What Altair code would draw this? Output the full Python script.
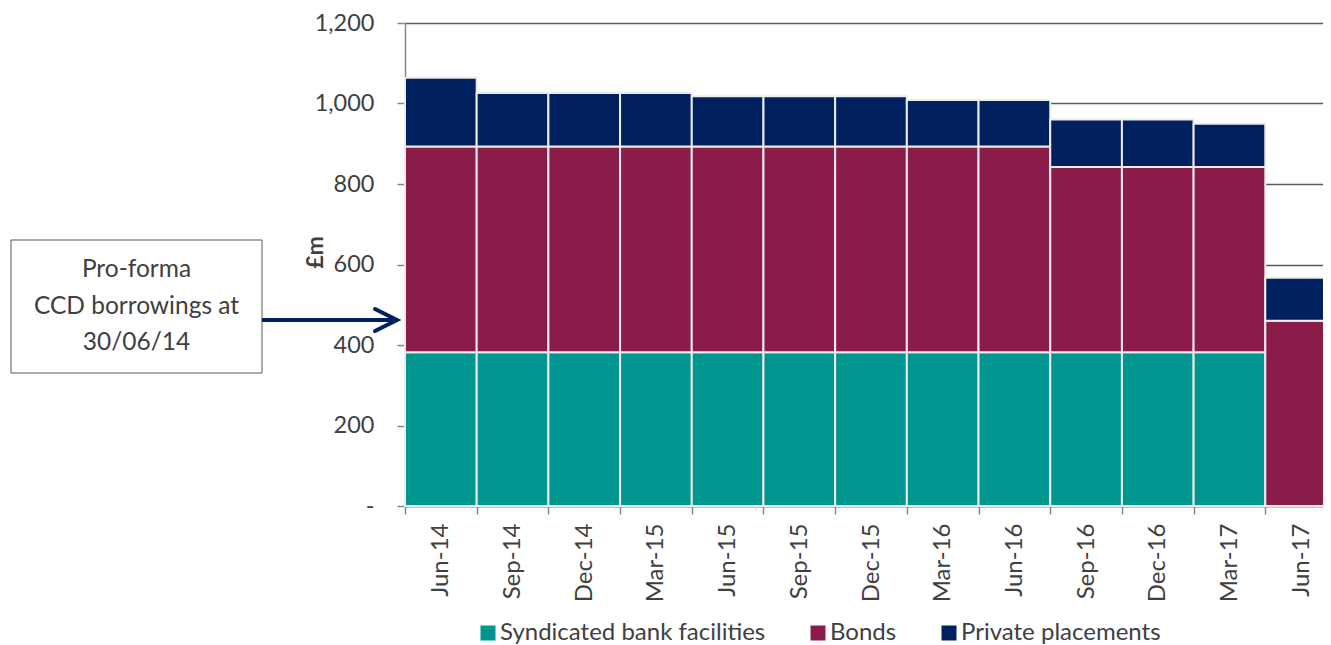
import altair as alt
import pandas as pd

periods = ["Jun-14", "Sep-14", "Dec-14", "Mar-15", "Jun-15", "Sep-15", "Dec-15",
           "Mar-16", "Jun-16", "Sep-16", "Dec-16", "Mar-17", "Jun-17"]
syndicated = [382, 382, 382, 382, 382, 382, 382, 382, 382, 382, 382, 382, 0]
bonds = [511, 511, 511, 511, 511, 511, 511, 511, 511, 460, 460, 460, 460]
private = [171, 133, 133, 133, 125, 125, 125, 116, 116, 118, 118, 108, 107]

series_names = ["Syndicated bank facilities", "Bonds", "Private placements"]
series_colors = ["#00968F", "#8B1C4A", "#002060"]
y_ticks = [0, 200, 400, 600, 800, 1000, 1200]

annotation_text = "Pro-forma\nCCD borrowings at\n30/06/14"
arrow_value = 462

FONT = "Lato"
TXT = "#404040"
AXIS_C = "#868696"

rows = []
for i, p in enumerate(periods):
    for k, (name, vals) in enumerate(zip(series_names, [syndicated, bonds, private])):
        rows.append({"period": p, "series": name, "value": vals[i], "order": k})
df = pd.DataFrame(rows)

bars = alt.Chart(df).mark_bar(stroke="#ececec", strokeWidth=2).encode(
    x=alt.X("period:N", sort=periods, title=None,
            scale=alt.Scale(paddingInner=0, paddingOuter=0, range=[0, 932]),
            axis=alt.Axis(labelAngle=270, labelAlign="right", labelBaseline="middle",
                          labelPadding=9, tickSize=8, tickBand="extent",
                          domainColor=AXIS_C, tickColor=AXIS_C, domainWidth=1.5,
                          tickWidth=1.5, labelFont=FONT, labelFontSize=24,
                          labelColor=TXT)),
    y=alt.Y("value:Q", stack="zero",
            scale=alt.Scale(domain=[0, 1200], nice=False),
            axis=alt.Axis(values=y_ticks, title="£m", titleFont=FONT, titleFontSize=23,
                          titleFontWeight="bold", titleColor=TXT, titleAngle=270,
                          titleX=-90, titleY=229, titleAlign="center",
                          titleBaseline="middle",
                          labelExpr="datum.value == 0 ? '-' : format(datum.value, ',')",
                          labelFont=FONT, labelFontSize=23.5, labelColor=TXT,
                          labelPadding=23, tickSize=8, tickColor=AXIS_C,
                          domainColor=AXIS_C, domainWidth=1.5, tickWidth=1.5,
                          grid=True, gridColor="#5a5a5a", gridWidth=1.5)),
    color=alt.Color("series:N", sort=series_names,
                    scale=alt.Scale(domain=series_names, range=series_colors),
                    legend=alt.Legend(title=None, orient="none", direction="horizontal",
                                      columns=3, legendX=71, legendY=598,
                                      symbolType="square", symbolSize=225,
                                      symbolStrokeWidth=0, labelFont=FONT,
                                      labelFontSize=24, labelColor=TXT, labelLimit=500,
                                      labelOffset=0, columnPadding=40, padding=0)),
    order=alt.Order("order:Q"),
)

one = pd.DataFrame({"a": [0]})

box = alt.Chart(one).mark_rect(fill="white", stroke="#595959", strokeWidth=1).encode(
    x=alt.value(-394), x2=alt.value(-143), y=alt.value(217), y2=alt.value(350))

label = alt.Chart(one).mark_text(font=FONT, fontSize=24.5, color=TXT, align="center",
                                 baseline="middle", lineBreak="\n", lineHeight=36.5).encode(
    x=alt.value(-268.5), y=alt.value(247), text=alt.value(annotation_text))

arrow_line = alt.Chart(one).mark_rule(color="#002060", strokeWidth=4).encode(
    x=alt.value(-143), x2=alt.value(-10), y=alt.datum(arrow_value))

arrow_head = alt.Chart(one).mark_point(
    shape="M -2 -1 L 0 0 L -2 1", filled=False, stroke="#002060", strokeWidth=4,
    size=484, strokeCap="round", strokeJoin="miter", opacity=1).encode(
    x=alt.value(-8), y=alt.datum(arrow_value))

chart = alt.layer(bars, box, label, arrow_line, arrow_head).properties(
    width=918, height=483,
    autosize=alt.AutoSizeParams(type="none"),
    padding={"left": 397, "top": 15, "right": 0, "bottom": 139},
).configure_view(stroke=None)

chart.save("out.html", embed_options={"renderer": "svg", "actions": False})
